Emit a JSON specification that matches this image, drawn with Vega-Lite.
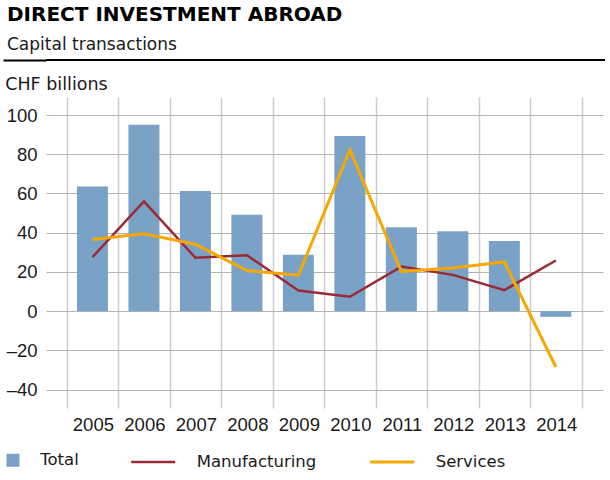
{
  "$schema": "https://vega.github.io/schema/vega-lite/v6.json",
  "padding": {"left": 2, "top": 5, "right": 3, "bottom": 5},
  "background": "white",
  "title": {
    "text": "DIRECT INVESTMENT ABROAD",
    "subtitle": "Capital transactions",
    "anchor": "start",
    "font": "DejaVu Sans",
    "fontSize": 20,
    "fontWeight": "bold",
    "color": "#000000",
    "subtitleFont": "DejaVu Sans",
    "subtitleFontSize": 17,
    "subtitleColor": "#1a1a1a",
    "subtitlePadding": 12,
    "offset": 6,
    "dx": 5
  },
  "spacing": 14,
  "resolve": {"scale": {"fill": "independent", "stroke": "independent", "strokeWidth": "independent"}},
  "vconcat": [
    {
      "width": 559,
      "height": 1,
      "data": {"values": [{}]},
      "mark": {"type": "rule", "color": "#000000", "strokeWidth": 2},
      "encoding": {
        "y": {
          "datum": 0,
          "type": "quantitative",
          "scale": {"domain": [0, 1]},
          "axis": {
            "title": null,
            "values": [0],
            "labels": false,
            "domain": false,
            "grid": false,
            "ticks": true,
            "tickSize": 43,
            "tickWidth": 2,
            "tickColor": "#000000"
          }
        }
      }
    },
    {
      "width": 557,
      "height": 311,
      "data": {
        "values": [
          {"year": 2005, "series": "Total", "value": 63.5},
          {"year": 2006, "series": "Total", "value": 95.1},
          {"year": 2007, "series": "Total", "value": 61.3},
          {"year": 2008, "series": "Total", "value": 49.1},
          {"year": 2009, "series": "Total", "value": 28.7},
          {"year": 2010, "series": "Total", "value": 89.3},
          {"year": 2011, "series": "Total", "value": 42.8},
          {"year": 2012, "series": "Total", "value": 40.8},
          {"year": 2013, "series": "Total", "value": 35.8},
          {"year": 2014, "series": "Total", "value": -2.9},
          {"year": 2005, "series": "Manufacturing", "value": 27.5},
          {"year": 2006, "series": "Manufacturing", "value": 56.0},
          {"year": 2007, "series": "Manufacturing", "value": 27.2},
          {"year": 2008, "series": "Manufacturing", "value": 28.5},
          {"year": 2009, "series": "Manufacturing", "value": 10.5},
          {"year": 2010, "series": "Manufacturing", "value": 7.3},
          {"year": 2011, "series": "Manufacturing", "value": 22.7},
          {"year": 2012, "series": "Manufacturing", "value": 18.5},
          {"year": 2013, "series": "Manufacturing", "value": 10.7},
          {"year": 2014, "series": "Manufacturing", "value": 25.8},
          {"year": 2005, "series": "Services", "value": 36.5},
          {"year": 2006, "series": "Services", "value": 39.4},
          {"year": 2007, "series": "Services", "value": 34.1},
          {"year": 2008, "series": "Services", "value": 20.7},
          {"year": 2009, "series": "Services", "value": 18.3},
          {"year": 2010, "series": "Services", "value": 82.2},
          {"year": 2011, "series": "Services", "value": 20.2},
          {"year": 2012, "series": "Services", "value": 22.0},
          {"year": 2013, "series": "Services", "value": 25.1},
          {"year": 2014, "series": "Services", "value": -28.5}
        ]
      },
      "encoding": {
        "x": {
          "field": "year",
          "type": "quantitative",
          "scale": {"domain": [2004.195, 2014.819], "nice": false, "zero": false},
          "axis": {
            "title": null,
            "values": [2004.5, 2005.5, 2006.5, 2007.5, 2008.5, 2009.5, 2010.5, 2011.5, 2012.5, 2013.5, 2014.5],
            "labelExpr": "datum.value < 2014 ? format(datum.value + 0.5, 'd') : ''",
            "labelOffset": 26.2,
            "labelFlush": false,
            "labelOverlap": false,
            "labelBound": false,
            "labelPadding": 7,
            "grid": true,
            "gridColor": "#cccccc",
            "gridWidth": 1.5,
            "ticks": false,
            "domain": false
          }
        },
        "y": {
          "field": "value",
          "type": "quantitative",
          "scale": {"domain": [-49.4, 109.2], "nice": false, "zero": false},
          "axis": {
            "title": "CHF billions",
            "titleAngle": 0,
            "titleAlign": "left",
            "titleBaseline": "alphabetic",
            "titleX": -41.3,
            "titleY": -8,
            "titleFont": "DejaVu Sans",
            "titleFontSize": 17.5,
            "titleFontWeight": "normal",
            "titleColor": "#1a1a1a",
            "values": [-40, -20, 0, 20, 40, 60, 80, 100],
            "labelExpr": "datum.value < 0 ? '–' + abs(datum.value) : datum.label",
            "labelPadding": 9,
            "grid": true,
            "gridColor": "#b4b4b4",
            "gridWidth": 1,
            "ticks": false,
            "domain": false
          }
        }
      },
      "layer": [
        {
          "transform": [{"filter": "datum.series === 'Total'"}],
          "mark": {"type": "bar", "width": 31},
          "encoding": {
            "fill": {
              "field": "series",
              "type": "nominal",
              "scale": {"domain": ["Total"], "range": ["#7aa2c6"]},
              "legend": {
                "title": null,
                "orient": "none",
                "legendX": -41.3,
                "legendY": 355,
                "symbolType": "square",
                "symbolSize": 169,
                "symbolStrokeWidth": 0,
                "labelOffset": 19,
                "padding": 0
              }
            }
          }
        },
        {
          "transform": [{"filter": "datum.series !== 'Total'"}],
          "mark": {"type": "line"},
          "encoding": {
            "stroke": {
              "field": "series",
              "type": "nominal",
              "scale": {"domain": ["Manufacturing", "Services"], "range": ["#9a2a35", "#f6a800"]},
              "legend": {
                "title": null,
                "orient": "none",
                "direction": "horizontal",
                "legendX": 83.7,
                "legendY": 341.5,
                "symbolType": "stroke",
                "symbolSize": 1936,
                "symbolStrokeWidth": 2.5,
                "labelOffset": 20,
                "columnPadding": 47,
                "padding": 0
              }
            },
            "strokeWidth": {
              "field": "series",
              "type": "nominal",
              "scale": {"domain": ["Manufacturing", "Services"], "range": [2.5, 3]},
              "legend": null
            }
          }
        }
      ]
    }
  ],
  "config": {
    "view": {"stroke": null},
    "axis": {
      "labelFont": "Liberation Sans",
      "labelFontSize": 18.5,
      "labelColor": "#1a1a1a"
    },
    "legend": {
      "labelFont": "DejaVu Sans",
      "labelFontSize": 16.5,
      "labelColor": "#1a1a1a"
    }
  }
}
